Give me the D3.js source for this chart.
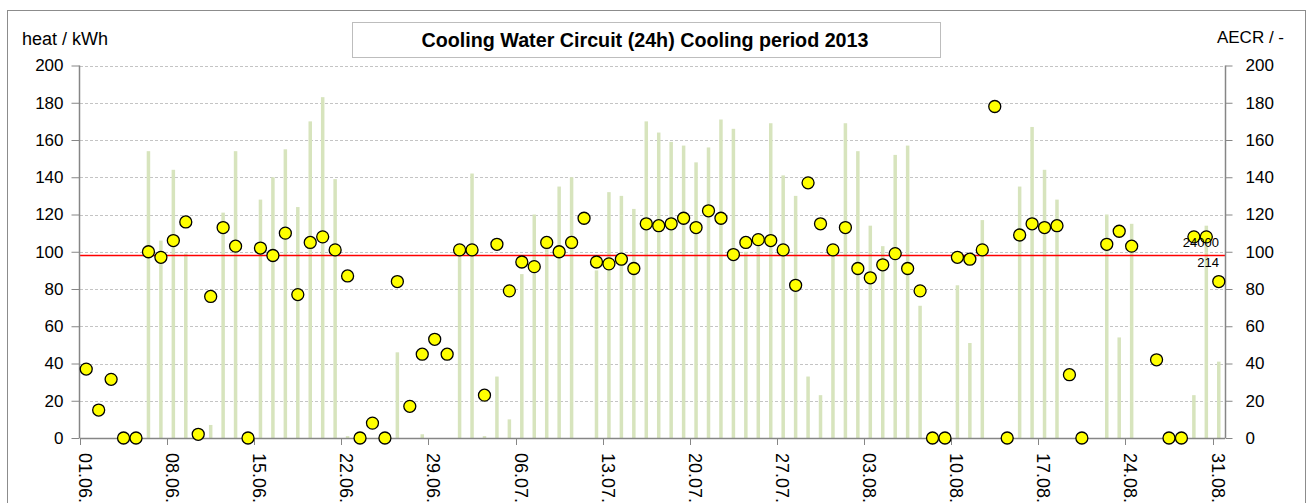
<!DOCTYPE html>
<html>
<head>
<meta charset="utf-8">
<script src="https://cdn.jsdelivr.net/npm/d3@7"></script>
<style>
  body { margin: 0; background: #fff; }
  svg text { font-family: "Liberation Sans", Arial, sans-serif; fill: #000; }
</style>
</head>
<body>
<div id="chart"></div>
<script>
// daily values 01.06.2013 - 31.08.2013
const heat = [
    0, 0, 0, 0, 0, 154, 106, 144, 99, 0,
    7, 121, 154, 0, 128, 140, 155, 124, 170, 183,
    139, 1, 0, 0, 0, 46, 0, 2, 0, 0,
    100, 142, 1, 33, 10, 88, 120, 102, 135, 140,
    0, 90, 132, 130, 123, 170, 164, 159, 157, 148,
    156, 171, 166, 100, 110, 169, 141, 130, 33, 23,
    98, 169, 154, 114, 103, 152, 157, 71, 0, 0,
    82, 51, 117, 0, 0, 135, 167, 144, 128, 0,
    0, 0, 120, 54, 115, 0, 0, 0, 0, 23,
    114, 41
];
const aecr = [
    37, 15, 31.5, 0, 0, 100, 97, 106, 116, 2,
    76, 113, 103, 0, 102, 98, 110, 77, 105, 108,
    101, 87, 0, 8, 0, 84, 17, 45, 53, 45,
    101, 101, 23, 104, 79, 94.5, 92, 105, 100, 105,
    118, 94.5, 93.5, 96, 91, 115, 114, 115, 118, 113,
    122, 118, 98.5, 105, 106.5, 106, 101, 82, 137, 115,
    101, 113, 91, 86, 93, 99, 91, 79, 0, 0,
    97, 96, 101, 178, 0, 109, 115, 113, 114, 34,
    0, null, 104, 111, 103, null, 42, 0, 0, 108,
    108, 84
];
const refLine = 98;
const refLabels = ["24000", "214"];
const tickLabels = ["01.06.", "08.06.", "15.06.", "22.06.", "29.06.", "06.07.", "13.07.",
    "20.07.", "27.07.", "03.08.", "10.08.", "17.08.", "24.08.", "31.08."];
const yTicks = [0, 20, 40, 60, 80, 100, 120, 140, 160, 180, 200];
const title = "Cooling Water Circuit (24h) Cooling period 2013";

const width = 1308;
const height = 503;
const plotLeft = 80, plotRight = 1225, plotTop = 65.5, plotBottom = 438;

const svg = d3.select("#chart")
    .append("svg")
    .attr("width", width)
    .attr("height", height);

const days = d3.range(heat.length);

const x = d3.scaleBand()
    .domain(days)
    .range([plotLeft, plotRight])
    .padding(0);

const y = d3.scaleLinear()
    .domain([0, 200])
    .range([plotBottom, plotTop]);

// outer frame
svg.append("rect")
    .attr("x", 7.5).attr("y", 10.5)
    .attr("width", 1298).attr("height", 520)
    .attr("fill", "none")
    .attr("stroke", "#8c8c8c");

// gridlines
svg.append("g")
    .selectAll("line")
    .data(yTicks.filter(d => d > 0))
    .enter()
    .append("line")
    .attr("x1", plotLeft).attr("x2", plotRight)
    .attr("y1", d => Math.round(y(d)) + 0.5)
    .attr("y2", d => Math.round(y(d)) + 0.5)
    .attr("stroke", "#c4c4c4")
    .attr("stroke-dasharray", "3,2");

// title box
svg.append("rect")
    .attr("x", 352.5).attr("y", 22.5)
    .attr("width", 588).attr("height", 35)
    .attr("fill", "#fff")
    .attr("stroke", "#bdbdbd");

svg.append("text")
    .attr("x", 645).attr("y", 47)
    .attr("text-anchor", "middle")
    .attr("font-size", 20)
    .attr("font-weight", "bold")
    .attr("textLength", 447)
    .attr("lengthAdjust", "spacingAndGlyphs")
    .text(title);

// bars (heat)
svg.append("g")
    .selectAll("rect")
    .data(days.filter(i => heat[i] > 0))
    .enter()
    .append("rect")
    .attr("x", i => x(i) + x.bandwidth() / 2 - 1.75)
    .attr("width", 3.5)
    .attr("y", i => y(heat[i]))
    .attr("height", i => plotBottom - y(heat[i]))
    .attr("fill", "#d7e4bd");

// reference line
svg.append("line")
    .attr("x1", plotLeft).attr("x2", plotRight)
    .attr("y1", y(refLine)).attr("y2", y(refLine))
    .attr("stroke", "#ff0000")
    .attr("stroke-width", 1.3);

// axes
const axisColor = "#868686";
const yAxisL = svg.append("g").attr("transform", `translate(${plotLeft - 0.5},0)`)
    .call(d3.axisLeft(y).tickValues(yTicks).tickSize(8).tickPadding(8));
const yAxisR = svg.append("g").attr("transform", `translate(${plotRight + 0.5},0)`)
    .call(d3.axisRight(y).tickValues(yTicks).tickSize(7).tickPadding(13));

[yAxisL, yAxisR].forEach(g => {
    g.select(".domain").attr("stroke", axisColor).attr("stroke-width", 1.5)
        .attr("d", `M0,${plotBottom}V${plotTop}`);
    g.selectAll(".tick line").attr("stroke", axisColor);
    g.selectAll(".tick text")
        .attr("font-size", 17)
        .attr("font-family", "Liberation Sans, Arial, sans-serif")
        .attr("fill", "#000");
});

const xTickDays = days.filter(i => i % 7 === 0);
const xAxis = svg.append("g");
xAxis.append("line")
    .attr("x1", plotLeft).attr("x2", plotRight)
    .attr("y1", plotBottom + 0.5).attr("y2", plotBottom + 0.5)
    .attr("stroke", axisColor)
    .attr("stroke-width", 1.5);
xAxis.selectAll("line.tick")
    .data(xTickDays)
    .enter()
    .append("line")
    .attr("class", "tick")
    .attr("x1", i => Math.round(x(i)) + 0.5)
    .attr("x2", i => Math.round(x(i)) + 0.5)
    .attr("y1", plotBottom)
    .attr("y2", plotBottom + 7)
    .attr("stroke", axisColor);
xAxis.selectAll("text")
    .data(xTickDays)
    .enter()
    .append("text")
    .attr("transform", i => `translate(${x(i) - 1},453) rotate(90)`)
    .attr("font-size", 18)
    .text((i, k) => tickLabels[k]);

// axis titles
svg.append("text")
    .attr("x", 22).attr("y", 45)
    .attr("font-size", 18)
    .text("heat / kWh");

svg.append("text")
    .attr("x", 1284).attr("y", 43)
    .attr("text-anchor", "end")
    .attr("font-size", 17)
    .text("AECR / -");

// points (AECR)
svg.append("g")
    .selectAll("circle")
    .data(days.filter(i => aecr[i] !== null))
    .enter()
    .append("circle")
    .attr("cx", i => x(i) + x.bandwidth() / 2)
    .attr("cy", i => y(aecr[i]))
    .attr("r", 6)
    .attr("fill", "#ffff00")
    .attr("stroke", "#000")
    .attr("stroke-width", 1.3);

// labels at the end of the reference line
svg.append("text")
    .attr("x", 1219).attr("y", 247)
    .attr("text-anchor", "end")
    .attr("font-size", 13)
    .text(refLabels[0]);
svg.append("text")
    .attr("x", 1219).attr("y", 267)
    .attr("text-anchor", "end")
    .attr("font-size", 13)
    .text(refLabels[1]);
</script>
</body>
</html>
